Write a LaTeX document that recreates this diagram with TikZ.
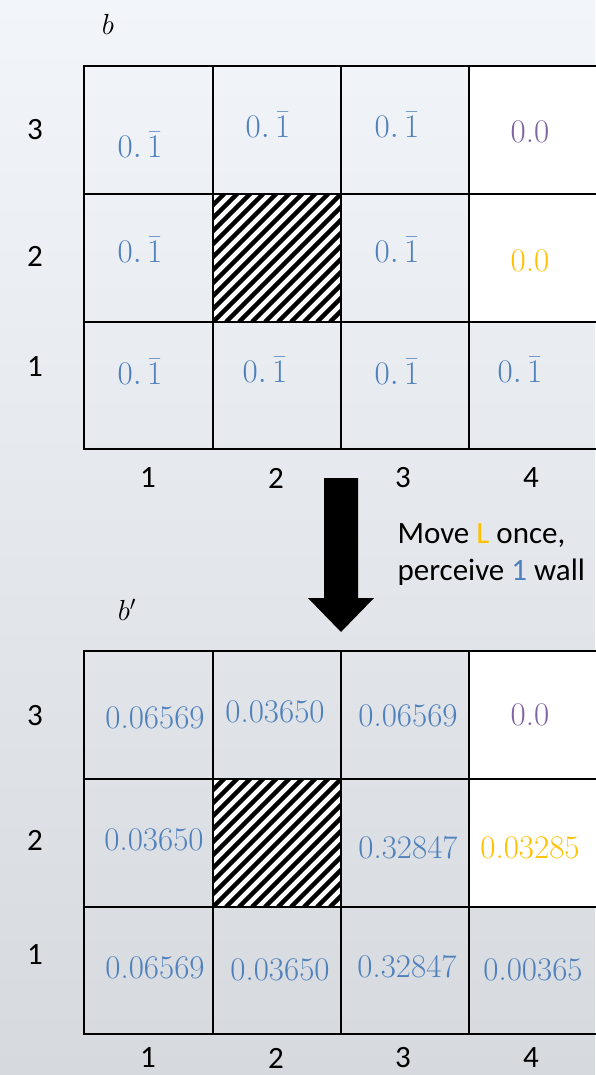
\RequirePackage{fix-cm}
\documentclass[tikz,border=0pt]{standalone}
\usepackage{fontspec}
\newfontfamily\labelfont{Carlito}
\usetikzlibrary{positioning}
\definecolor{valblue}{HTML}{4F81BD}
\definecolor{valpurple}{HTML}{8064A2}
\definecolor{valgold}{HTML}{FFC000}
\definecolor{bgtop}{HTML}{F2F5FA}
\definecolor{bgbot}{HTML}{D6D9DD}
\tikzset{
  gridline/.style={line width=2pt},
  val/.style={font=\fontsize{33}{40}\selectfont, text=valblue},
  lbl/.style={font=\labelfont\fontsize{31}{37}\selectfont},
  gridname/.style={font=\fontsize{29}{34}\selectfont},
}
% hatched (blocked) cell: top-left corner at #1,#2 (y grows downwards)
\newcommand{\hatchcell}[2]{%
  \begin{scope}
    \clip (#1,#2) rectangle ++(128,128);
    \fill[white] (#1,#2) rectangle ++(128,128);
    \foreach \k in {0,...,20}
      \draw[line width=4.5pt] (#1+\k*13-130,#2+128) -- ++(140,-140);
  \end{scope}}

\begin{document}
\begin{tikzpicture}[x=1pt,y=-1pt]
  \useasboundingbox (0,0) rectangle (595,1075);
  \shade[top color=bgtop, bottom color=bgbot] (0,0) rectangle (595,1075);

  % ---- belief b ----
  \fill[white] (469,66) rectangle (597,322);
  \hatchcell{213}{194}
  \draw[gridline] (84,66) rectangle (597,449);
  \foreach \x in {213,341,469} \draw[gridline] (\x,66) -- (\x,449);
  \foreach \y in {194,322} \draw[gridline] (84,\y) -- (597,\y);

  \node[gridname] (bname) at (108,24) {$b$};

  \node[val] (b13) at (140,145) {$0.\,\bar{1}$};
  \node[val] (b23) at (268,125) {$0.\,\bar{1}$};
  \node[val] (b33) at (397,125) {$0.\,\bar{1}$};
  \node[val, text=valpurple] (b43) at (530,132) {0.0};
  \node[val] (b12) at (140,250) {$0.\,\bar{1}$};
  \node[val] (b32) at (397,250) {$0.\,\bar{1}$};
  \node[val, text=valgold] (b42) at (530,261) {0.0};
  \node[val] (b11) at (140,372) {$0.\,\bar{1}$};
  \node[val] (b21) at (265,370) {$0.\,\bar{1}$};
  \node[val] (b31) at (397,372) {$0.\,\bar{1}$};
  \node[val] (b41) at (520,370) {$0.\,\bar{1}$};

  \node[lbl] (brow3) at (35,130) {3};
  \node[lbl] (brow2) at (35,256) {2};
  \node[lbl] (brow1) at (35,367) {1};
  \foreach \c/\x in {1/148,2/276,3/403,4/531}
    \node[lbl] (bcol\c) at (\x,478) {\c};

  % ---- the step ----
  \fill[black] (324,478) -- (358,478) -- (358,598) -- (374,598)
    -- (341,632) -- (308,598) -- (324,598) -- cycle;
  \node[lbl, anchor=west, align=left] (step) at (394,555)
    {Move \textcolor{valgold}{L} once,\\perceive \textcolor{valblue}{1} wall};

  % ---- belief b' ----
  \fill[white] (469,651) rectangle (597,907);
  \hatchcell{213}{779}
  \draw[gridline] (84,651) rectangle (597,1034);
  \foreach \x in {213,341,469} \draw[gridline] (\x,651) -- (\x,1034);
  \foreach \y in {779,907} \draw[gridline] (84,\y) -- (597,\y);

  \node[gridname] (bpname) at (127,610) {$b'$};

  \node[val] (p13) at (155,718) {0.06569};
  \node[val] (p23) at (275,712) {0.03650};
  \node[val] (p33) at (408,716) {0.06569};
  \node[val, text=valpurple] (p43) at (530,715) {0.0};
  \node[val] (p12) at (154,840) {0.03650};
  \node[val] (p32) at (408,848) {0.32847};
  \node[val, text=valgold] (p42) at (530,848) {0.03285};
  \node[val] (p11) at (155,968) {0.06569};
  \node[val] (p21) at (280,970) {0.03650};
  \node[val] (p31) at (407,967) {0.32847};
  \node[val] (p41) at (533,970) {0.00365};

  \node[lbl] (prow3) at (35,716) {3};
  \node[lbl] (prow2) at (35,840) {2};
  \node[lbl] (prow1) at (35,955) {1};
  \foreach \c/\x in {1/148,2/276,3/403,4/531}
    \node[lbl] (pcol\c) at (\x,1058) {\c};
\end{tikzpicture}
\end{document}
